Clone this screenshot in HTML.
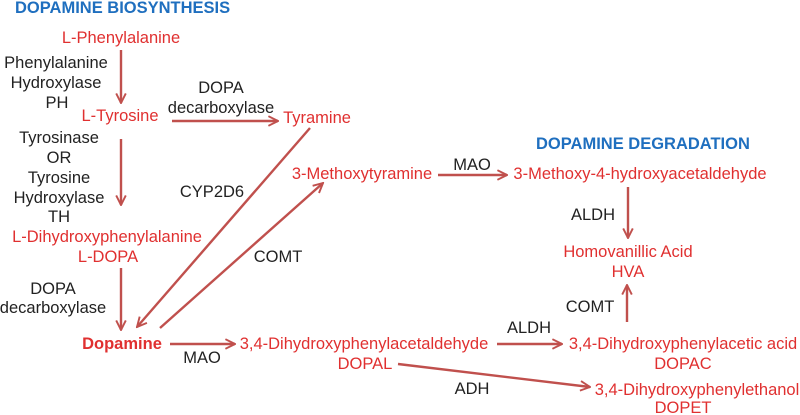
<!DOCTYPE html>
<html><head><meta charset="utf-8"><style>
html,body{margin:0;padding:0;background:#fff;}
svg{display:block;}
text{font-family:"Liberation Sans",sans-serif;font-size:16.5px;}
.r{fill:#e03030;text-anchor:middle;}
.k{fill:#222;text-anchor:middle;}
.b{fill:#1f6fbf;font-weight:bold;}
line{stroke:#c0504d;stroke-width:2.4;marker-end:url(#a);}
</style></head><body>
<svg width="800" height="415" viewBox="0 0 800 415">
<defs><marker id="a" viewBox="0 0 10 10" refX="9" refY="5" markerWidth="5" markerHeight="5" orient="auto" markerUnits="strokeWidth"><path d="M1,1 L9,5 L1,9" fill="none" stroke="#c0504d" stroke-width="1.6"/></marker></defs>
<text x="15" y="13" class="b">DOPAMINE BIOSYNTHESIS</text>
<text x="536" y="149" class="b">DOPAMINE DEGRADATION</text>

<text x="121" y="43" class="r">L-Phenylalanine</text>
<text x="120" y="121" class="r">L-Tyrosine</text>
<text x="317" y="123" class="r">Tyramine</text>
<text x="107" y="242" class="r">L-Dihydroxyphenylalanine</text>
<text x="108" y="262" class="r">L-DOPA</text>
<text x="122" y="349" class="r" style="font-weight:bold">Dopamine</text>
<text x="362" y="179" class="r">3-Methoxytyramine</text>
<text x="640" y="179" class="r">3-Methoxy-4-hydroxyacetaldehyde</text>
<text x="628" y="257" class="r">Homovanillic Acid</text>
<text x="628" y="277" class="r">HVA</text>
<text x="364" y="349" class="r">3,4-Dihydroxyphenylacetaldehyde</text>
<text x="365" y="369" class="r">DOPAL</text>
<text x="683" y="349" class="r">3,4-Dihydroxyphenylacetic acid</text>
<text x="683" y="369" class="r">DOPAC</text>
<text x="697" y="395" class="r">3,4-Dihydroxyphenylethanol</text>
<text x="683" y="413" class="r">DOPET</text>

<text x="56" y="68" class="k">Phenylalanine</text>
<text x="56" y="88" class="k">Hydroxylase</text>
<text x="57" y="108" class="k">PH</text>
<text x="221" y="93" class="k">DOPA</text>
<text x="221" y="113" class="k">decarboxylase</text>
<text x="59" y="143" class="k">Tyrosinase</text>
<text x="59" y="163" class="k">OR</text>
<text x="59" y="183" class="k">Tyrosine</text>
<text x="59" y="203" class="k">Hydroxylase</text>
<text x="59" y="222" class="k">TH</text>
<text x="53" y="294" class="k">DOPA</text>
<text x="53" y="313" class="k">decarboxylase</text>
<text x="212" y="197" class="k">CYP2D6</text>
<text x="278" y="262" class="k">COMT</text>
<text x="202" y="363" class="k">MAO</text>
<text x="472" y="170" class="k">MAO</text>
<text x="593" y="220" class="k">ALDH</text>
<text x="590" y="312" class="k">COMT</text>
<text x="529" y="333" class="k">ALDH</text>
<text x="472" y="394" class="k">ADH</text>

<line x1="121" y1="50" x2="121" y2="103"/>
<line x1="172" y1="121" x2="278" y2="121"/>
<line x1="121" y1="139" x2="121" y2="205"/>
<line x1="121" y1="268" x2="121" y2="330"/>
<line x1="310" y1="128" x2="137" y2="327"/>
<line x1="160" y1="328" x2="323" y2="183"/>
<line x1="438" y1="175" x2="507" y2="175"/>
<line x1="628" y1="187" x2="628" y2="238"/>
<line x1="627" y1="322" x2="627" y2="285"/>
<line x1="170" y1="344" x2="235" y2="344"/>
<line x1="497" y1="344" x2="562" y2="344"/>
<line x1="398" y1="364" x2="590" y2="387"/>
</svg>
</body></html>
